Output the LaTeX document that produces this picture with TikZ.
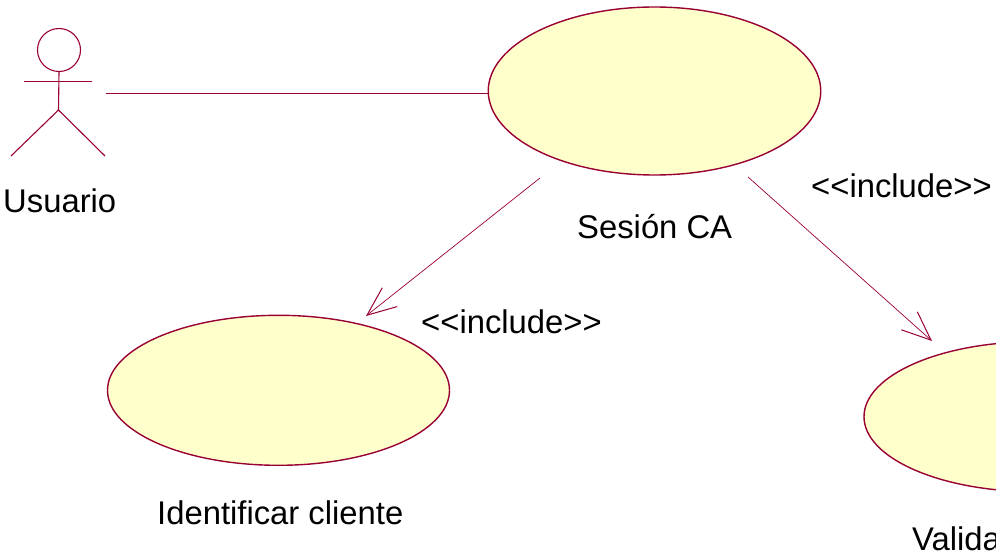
\documentclass[tikz,border=0pt]{standalone}
\usepackage{fontspec}
\setmainfont{Liberation Sans}
\usetikzlibrary{shapes.geometric,arrows.meta}
\definecolor{umlline}{HTML}{990033}
\definecolor{umlfill}{HTML}{FFFFCC}
\tikzset{
  usecase/.style={ellipse,draw=umlline,fill=umlfill,line width=1.4pt,inner sep=0pt},
  umltext/.style={inner sep=0pt,anchor=base west,text=black,font=\fontsize{32.8}{38}\selectfont},
  actorline/.style={draw=umlline,line width=1.1pt},
  assoc/.style={draw=umlline,line width=.7pt},
  incl/.style={draw=umlline,line width=.7pt,-{Straight Barb[length=29pt,width=24pt,line width=1pt]}}
}
\begin{document}
\begin{tikzpicture}[x=1pt,y=-1pt]
\useasboundingbox (0,0) rectangle (996,553);
\clip (0,0) rectangle (996,553);
\node[usecase,minimum width=332.5pt,minimum height=168pt] (sesion) at (654.5,91) {};
\node[usecase,minimum width=342pt,minimum height=150pt] (identificar) at (278.5,390.3) {};
\node[usecase,minimum width=342pt,minimum height=150pt] (validar) at (1035,416.7) {};
% actor
\node[circle,draw=umlline,line width=1.1pt,fill=white,minimum size=43pt,inner sep=0pt] (head) at (59,50) {};
\coordinate (hip) at (58.5,110);
\coordinate (armL) at (24,81.5);
\coordinate (armR) at (92,81.5);
\coordinate (legL) at (11,156);
\coordinate (legR) at (105,156);
\draw[actorline] (head.south) -- (hip);
\draw[actorline] (armL) -- (armR);
\draw[actorline] (legL) -- (hip) -- (legR);
% connectors
\coordinate (actorEnd) at (106,93);
\coordinate (inclA) at (540,178);
\coordinate (tipA) at (366,316);
\coordinate (inclB) at (748,177);
\coordinate (tipB) at (932,341);
\draw[assoc] (actorEnd) -- (actorEnd -| sesion.west);
\draw[incl] (inclA) -- (tipA);
\draw[incl] (inclB) -- (tipB);
% labels
\node[umltext] (lusuario) at (3,212.5) {Usuario};
\node[umltext] (lsesion) at (577,238.5) {Sesión CA};
\node[umltext] (lidentificar) at (157,524.5) {Identificar cliente};
\node[umltext] (lvalidar) at (912,550) {Valida};
\node[umltext] (linclA) at (421,333.5) {<{}<include>{}>};
\node[umltext] (linclB) at (811,197.5) {<{}<include>{}>};
\end{tikzpicture}
\end{document}
